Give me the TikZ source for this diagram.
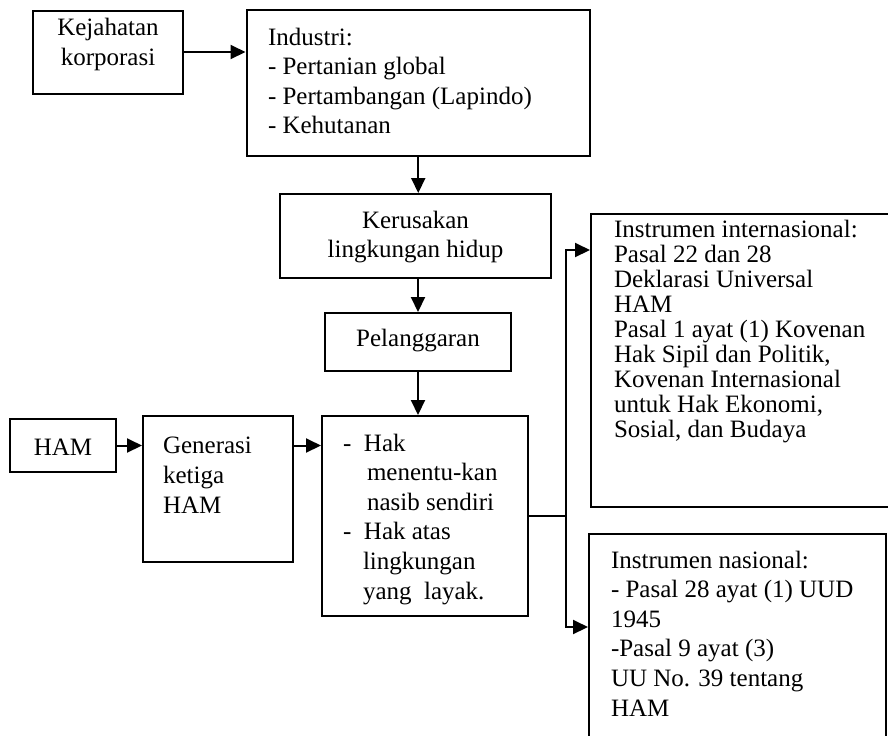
\documentclass[tikz,border=0pt]{standalone}
\usepackage{fontspec}
\setmainfont{Liberation Serif}
\usepackage{tikz}
\usetikzlibrary{arrows.meta}
\usetikzlibrary{positioning}

% text blocks with a fixed line spacing
\newcommand{\lefttext}[3][14.8pt]{\parbox[t]{#2}{\raggedright\fontsize{12.5pt}{#1}\selectfont #3\par}}
\newcommand{\midtext}[2]{\parbox[t]{#1}{\centering\fontsize{12.5pt}{14.8pt}\selectfont #2\par}}

\tikzset{
  box/.style={draw, line width=1pt, anchor=north west, inner ysep=0pt, inner xsep=0pt},
  arr/.style={-{Triangle[length=7.5pt,width=7pt]}, line width=1pt},
}

\begin{document}
\begin{tikzpicture}[x=0.5pt, y=-0.5pt]
    \useasboundingbox (0,0) rectangle (888,735);

    % upper chain
    \node[box, text height=12.5pt, text depth=29pt] (kej) at (32,9.5) {\midtext{75pt}{Kejahatan\\korporasi}};
    \node[box, inner xsep=10.75pt, text height=17.35pt, text depth=55.5pt] (ind) at (245.5,9.3)
      {\lefttext{150.25pt}{Industri:\\- Pertanian global\\- Pertambangan (Lapindo)\\- Kehutanan}};
    \node[box, text height=17pt, text depth=25pt] (ker) at (279,193) {\midtext{135.5pt}{Kerusakan\\lingkungan hidup}};
    \node[box, text height=16.5pt, text depth=12.5pt] (pel) at (324,312) {\midtext{93pt}{Pelanggaran}};

    % lower row
    \node[box, text height=18pt, text depth=8.5pt] (ham) at (9,418) {\midtext{53pt}{HAM}};
    \node[box, inner xsep=10pt, text height=18.5pt, text depth=54.5pt] (gen) at (142,415)
      {\lefttext[15.2pt]{55pt}{Generasi\\ketiga\\HAM}};
    \node[box, inner xsep=10.5pt, text height=17.5pt, text depth=82.5pt] (hak) at (321,415)
      {\lefttext{82pt}{\makebox[10.5pt][l]{-}Hak\\\hspace*{12pt}menentu-kan\\\hspace*{12pt}nasib sendiri\\\makebox[10.5pt][l]{-}Hak atas\\\hspace*{10pt}lingkungan\\\hspace*{10pt}yang\ \ layak.}};

    % instruments
    \node[box, inner xsep=11.5pt, text height=11.5pt, text depth=135pt] (intl) at (590,213)
      {\lefttext[12.5pt]{142pt}{Instrumen internasional:\\Pasal 22 dan 28\\Deklarasi Universal\\HAM\\Pasal 1 ayat (1) Kovenan\\Hak Sipil dan Politik,\\Kovenan Internasional\\untuk Hak Ekonomi,\\Sosial, dan Budaya}};
    \node[box, inner xsep=11pt, text height=17pt, text depth=110pt] (natl) at (588,533)
      {\lefttext{126.5pt}{Instrumen nasional:\\- Pasal 28 ayat (1) UUD\\1945\\-Pasal 9 ayat (3)\\UU No. 39 tentang\\HAM}};

    % connectors
    \draw[arr] (kej.east) -- (kej.east -| ind.west);
    \draw[arr] (ind.south) -- (ind.south |- ker.north);
    \draw[arr] (ker.south -| pel.north) -- (pel.north);
    \draw[arr] (pel.south) -- (pel.south |- hak.north);
    \draw[arr] (ham.east) -- (ham.east -| gen.west);
    \draw[arr] (ham.east -| gen.east) -- (ham.east -| hak.west);

    \coordinate (fork) at ([xshift=18.5pt]hak.east);
    \draw[line width=1pt] (hak.east) -- (fork);
    \draw[arr] (fork) |- ([yshift=-18.5pt]intl.north west);
    \draw[arr] (fork) |- ([yshift=-47pt]natl.north west);
\end{tikzpicture}
\end{document}
